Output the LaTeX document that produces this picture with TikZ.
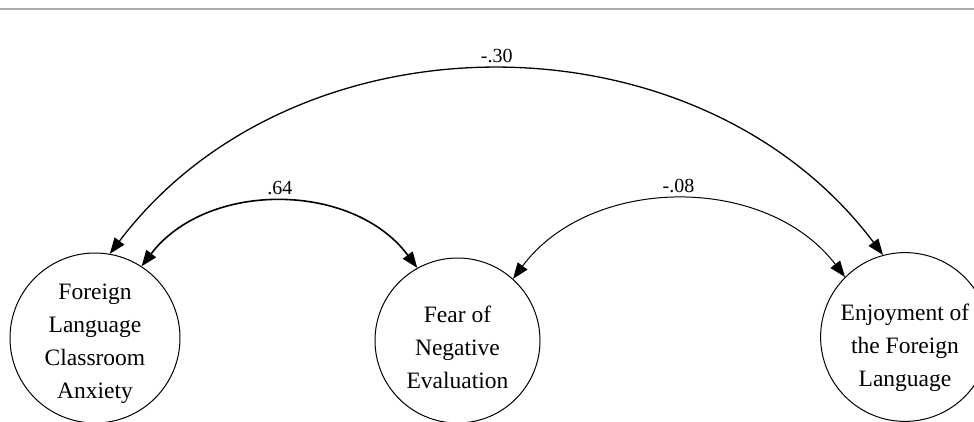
\documentclass[tikz,border=0pt]{standalone}
\usepackage{fontspec}
\setmainfont{Liberation Serif}
\usepackage{tikz}
\usetikzlibrary{arrows.meta,positioning}
\definecolor{rulegray}{RGB}{170,170,170}
\newcommand{\topgap}[1]{\rule{0pt}{#1}}
\tikzset{
    construct/.style={draw,circle,line width=1pt,inner sep=0pt,align=center,
        font=\fontsize{23.5}{33}\selectfont},
    corr/.style={<->,>={Triangle[length=16pt,width=12pt]},bend left=53},
    coef/.style={above=6pt,inner sep=1pt,font=\fontsize{20}{24}\selectfont}
}

\begin{document}
\begin{tikzpicture}[x=1pt,y=1pt]
    \useasboundingbox (0,0) rectangle (974,421);
    % Top rule
    \draw[rulegray,line width=1.5pt] (0,412) -- (974,412);

    % Constructs
    \node[construct,minimum size=170pt] (fla) at (95,83) {\topgap{28pt}Foreign\\Language\\Classroom\\Anxiety};
    \node[construct,minimum size=165pt] (fne) at (457.5,80.5) {\topgap{30pt}Fear of\\Negative\\Evaluation};
    \node[construct,minimum size=164pt] (efl) at (905,84) {\topgap{38pt}Enjoyment of\\the Foreign\\Language};

    % Correlations
    \draw[corr,line width=1.3pt,looseness=1.02] (fla.80) to node[coef] (r13) {-.30} (efl.105);
    \draw[corr,line width=1.6pt] (fla.57) to node[coef] (r12) {.64} (fne.119);
    \draw[corr,line width=1pt] (fne.48) to node[coef] (r23) {-.08} (efl.135);
\end{tikzpicture}
\end{document}
